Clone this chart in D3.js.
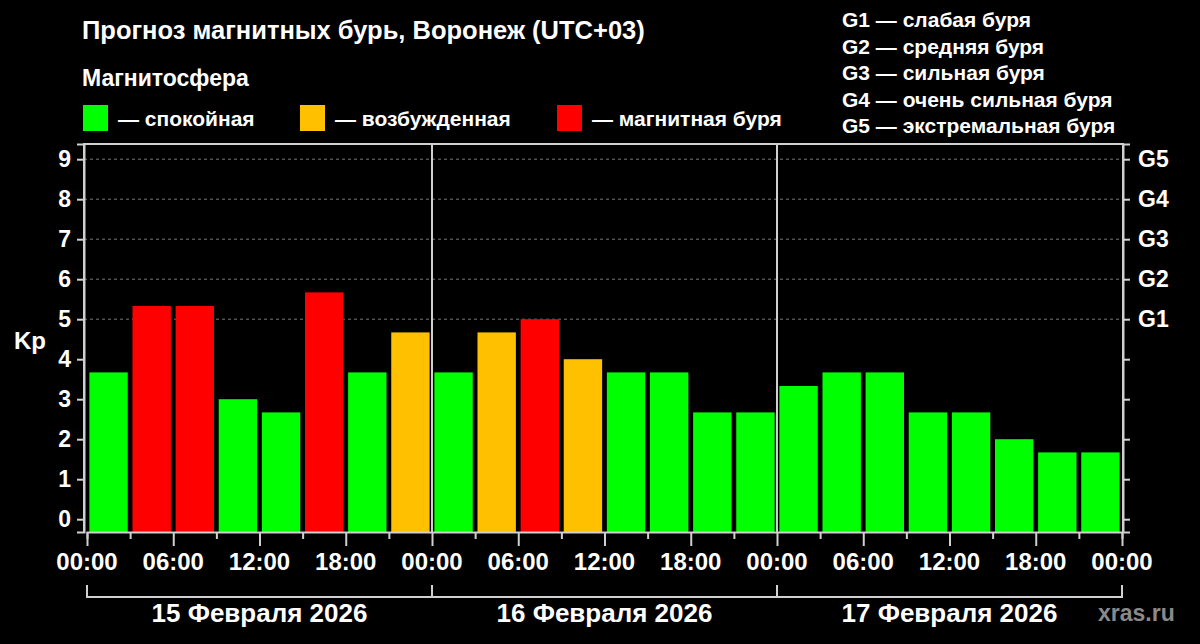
<!DOCTYPE html>
<html>
<head>
<meta charset="utf-8">
<script src="https://cdn.jsdelivr.net/npm/d3@7"></script>
<style>
  html, body { margin: 0; padding: 0; background: #000; }
  text { font-family: "Liberation Sans", Arial, sans-serif; font-weight: bold; }
</style>
</head>
<body>
<div id="chart"></div>
<script>
// Kp forecast, 3-hour intervals
const days = ["15 Февраля 2026", "16 Февраля 2026", "17 Февраля 2026"];
const kp = [
  3.67, 5.33, 5.33, 3.0, 2.67, 5.67, 3.67, 4.67,
  3.67, 4.67, 5.0, 4.0, 3.67, 3.67, 2.67, 2.67,
  3.33, 3.67, 3.67, 2.67, 2.67, 2.0, 1.67, 1.67
];
const hourLabels = ["00:00", "06:00", "12:00", "18:00"];
const kpTicks = [0, 1, 2, 3, 4, 5, 6, 7, 8, 9];
const gLevels = [5, 6, 7, 8, 9];
const gLabels = ["G1", "G2", "G3", "G4", "G5"];
const gLegend = [
  "G1 — слабая буря",
  "G2 — средняя буря",
  "G3 — сильная буря",
  "G4 — очень сильная буря",
  "G5 — экстремальная буря"
];
const states = ["— спокойная", "— возбужденная", "— магнитная буря"];
const stateColors = ["#00ff00", "#ffc000", "#ff0000"];

const width = 1200, height = 644;
const plotL = 87, plotR = 1122, plotT = 144, plotB = 532;
const frameColor = "#d0d0d0";

const svg = d3.select("#chart").append("svg")
  .attr("width", width)
  .attr("height", height)
  .style("background", "#000");

const x = d3.scaleLinear().domain([0, 72]).range([plotL, plotR]);
const band = d3.scaleBand().domain(d3.range(kp.length)).range([plotL, plotR])
  .paddingInner(0.11).paddingOuter(0.055);
const y = d3.scaleLinear().domain([-0.32, 9.38]).range([plotB, plotT]);
const color = d3.scaleThreshold().domain([4, 5]).range(stateColors);

// title + legends
svg.append("text").attr("x", 82).attr("y", 39)
  .attr("fill", "#fff").style("font-size", "25.5px")
  .text("Прогноз магнитных бурь, Воронеж (UTC+03)");
svg.append("text").attr("x", 82).attr("y", 86)
  .attr("fill", "#fff").style("font-size", "23px")
  .text("Магнитосфера");

const legX = [83, 300, 557];
const leg = svg.selectAll(".leg").data(states).enter().append("g")
  .attr("transform", (d, i) => `translate(${legX[i]},105)`);
leg.append("rect").attr("width", 25).attr("height", 26)
  .attr("fill", (d, i) => stateColors[i]);
leg.append("text").attr("x", 35).attr("y", 21)
  .attr("fill", "#fff").style("font-size", "21px")
  .text(d => d);

svg.selectAll(".gleg").data(gLegend).enter().append("text")
  .attr("x", 842).attr("y", (d, i) => 27 + i * 26.5)
  .attr("fill", "#fff").style("font-size", "21px")
  .text(d => d);

// grid for G levels
svg.selectAll(".grid").data(gLevels).enter().append("line")
  .attr("x1", 84).attr("x2", 1123)
  .attr("y1", d => y(d)).attr("y2", d => y(d))
  .attr("stroke", "#777").attr("stroke-width", 1)
  .attr("stroke-dasharray", "3,3");

// bars
svg.selectAll(".bar").data(kp).enter().append("rect")
  .attr("x", (d, i) => band(i))
  .attr("width", band.bandwidth())
  .attr("y", d => y(d))
  .attr("height", d => plotB - y(d))
  .attr("fill", d => color(d));

// day separators
svg.selectAll(".sep").data([24, 48]).enter().append("line")
  .attr("x1", d => x(d)).attr("x2", d => x(d))
  .attr("y1", plotT).attr("y2", plotB)
  .attr("stroke", frameColor).attr("stroke-width", 2);

// frame
svg.append("path")
  .attr("d", `M84,${plotB}V${plotT}H1123V${plotB}`)
  .attr("fill", "none").attr("stroke", frameColor).attr("stroke-width", 2);

// left axis
const yAxisL = svg.append("g").attr("transform", "translate(84,0)")
  .call(d3.axisLeft(y).tickValues(kpTicks).tickSize(7).tickPadding(6).tickFormat(d3.format("d")));
yAxisL.select(".domain").attr("stroke", frameColor).attr("stroke-width", 2);
yAxisL.selectAll(".tick line").attr("stroke", frameColor).attr("stroke-width", 2);
yAxisL.selectAll(".tick text").attr("fill", "#fff")
  .style("font-size", "23px").style("font-family", "Liberation Sans, Arial, sans-serif");

// right axis
const yAxisR = svg.append("g").attr("transform", "translate(1123,0)")
  .call(d3.axisRight(y).tickValues(kpTicks).tickSize(7).tickPadding(8)
    .tickFormat(d => d >= 5 ? gLabels[d - 5] : ""));
yAxisR.select(".domain").attr("stroke", frameColor).attr("stroke-width", 2);
yAxisR.selectAll(".tick line").attr("stroke", frameColor).attr("stroke-width", 2);
yAxisR.selectAll(".tick text").attr("fill", "#fff")
  .style("font-size", "23px").style("font-family", "Liberation Sans, Arial, sans-serif");

svg.append("text").attr("x", 14).attr("y", 349)
  .attr("fill", "#fff").style("font-size", "24px").text("Kp");

// bottom axis: minor ticks every 3h, labels every 6h
const xAxis = svg.append("g").attr("transform", `translate(0,${plotB})`)
  .call(d3.axisBottom(x).tickValues(d3.range(0, 73, 3)).tickSize(7).tickFormat(""));
xAxis.select(".domain").attr("stroke", frameColor).attr("stroke-width", 2);
xAxis.selectAll(".tick line").attr("stroke", frameColor).attr("stroke-width", 2)
  .attr("y2", d => d % 6 === 0 ? 14 : 7);

svg.selectAll(".hl").data(d3.range(0, 73, 6)).enter().append("text")
  .attr("x", d => x(d)).attr("y", 570)
  .attr("text-anchor", "middle")
  .attr("fill", "#fff").style("font-size", "24px")
  .text(d => hourLabels[(d / 6) % 4]);

// day bracket
svg.append("path")
  .attr("d", `M${x(0)},585V597H${x(72)}V585`)
  .attr("fill", "none").attr("stroke", frameColor).attr("stroke-width", 2);
svg.selectAll(".dt").data([24, 48]).enter().append("line")
  .attr("x1", d => x(d)).attr("x2", d => x(d))
  .attr("y1", 585).attr("y2", 597)
  .attr("stroke", frameColor).attr("stroke-width", 2);

svg.selectAll(".day").data(days).enter().append("text")
  .attr("x", (d, i) => x(i * 24 + 12)).attr("y", 622)
  .attr("text-anchor", "middle")
  .attr("fill", "#fff").style("font-size", "26px")
  .text(d => d);

svg.append("text").attr("x", 1098).attr("y", 621)
  .attr("fill", "#8a8a8a").style("font-size", "23px")
  .text("xras.ru");
</script>
</body>
</html>
